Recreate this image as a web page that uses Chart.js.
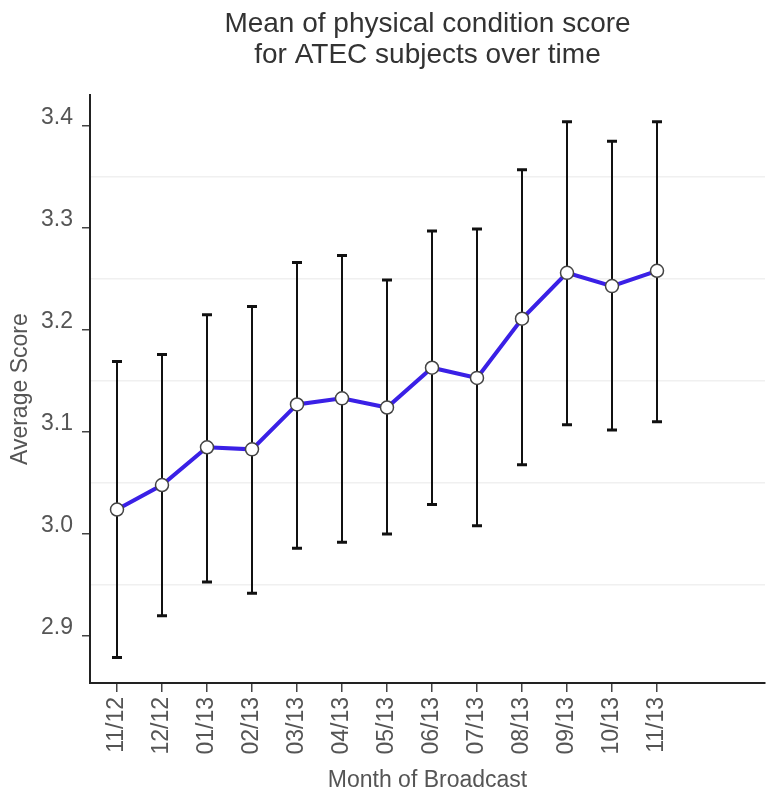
<!DOCTYPE html>
<html>
<head>
<meta charset="utf-8">
<title>Mean of physical condition score for ATEC subjects over time</title>
<script src="https://cdn.jsdelivr.net/npm/chart.js@4.4.1/dist/chart.umd.min.js"></script>
<style>
  html, body { margin: 0; padding: 0; background: #ffffff; }
  #wrap { width: 768px; height: 795px; }
</style>
</head>
<body>
<div id="wrap"><canvas id="chart" width="768" height="795"></canvas></div>
<script>
// Survey months (MM/YY)
const months = ['11/12', '12/12', '01/13', '02/13', '03/13', '04/13', '05/13',
                '06/13', '07/13', '08/13', '09/13', '10/13', '11/13'];

// Mean physical condition score per month
const meanScore = [3.024, 3.048, 3.085, 3.083, 3.127, 3.133, 3.124,
                   3.163, 3.153, 3.211, 3.256, 3.243, 3.258];

// Upper and lower ends of the error bars
const upperBound = [3.169, 3.176, 3.215, 3.223, 3.266, 3.273, 3.249,
                    3.297, 3.299, 3.357, 3.404, 3.385, 3.404];
const lowerBound = [2.879, 2.920, 2.953, 2.942, 2.986, 2.992, 3.000,
                    3.029, 3.008, 3.068, 3.107, 3.102, 3.110];

// Labelled y ticks and the faint guide lines between them
const yTickValues = [2.9, 3.0, 3.1, 3.2, 3.3, 3.4];
const yGuideValues = [2.95, 3.05, 3.15, 3.25, 3.35];

const FONT = "'Liberation Sans', Arial, Helvetica, sans-serif";
const isGuide = v => yGuideValues.some(g => Math.abs(g - v) < 1e-6);

// Vertical error bars with caps, drawn under the line and markers
const errorBars = {
  id: 'errorBars',
  beforeDatasetsDraw(chart) {
    const { ctx, scales: { x, y } } = chart;
    ctx.save();
    ctx.strokeStyle = '#111111';
    months.forEach((m, i) => {
      const px = x.getPixelForValue(i);
      const top = y.getPixelForValue(upperBound[i]);
      const bot = y.getPixelForValue(lowerBound[i]);
      ctx.lineWidth = 2;
      ctx.beginPath();
      ctx.moveTo(px, top);
      ctx.lineTo(px, bot);
      ctx.stroke();
      ctx.lineWidth = 3;
      ctx.beginPath();
      ctx.moveTo(px - 5, top);
      ctx.lineTo(px + 5, top);
      ctx.moveTo(px - 5, bot);
      ctx.lineTo(px + 5, bot);
      ctx.stroke();
    });
    ctx.restore();
  }
};

new Chart(document.getElementById('chart'), {
  type: 'line',
  data: {
    datasets: [{
      label: 'Average Score',
      data: meanScore.map((v, i) => ({ x: i, y: v })),
      borderColor: '#3a20e6',
      borderWidth: 4,
      pointRadius: 6.5,
      pointBackgroundColor: '#ffffff',
      pointBorderColor: '#444444',
      pointBorderWidth: 1.5,
      tension: 0
    }]
  },
  options: {
    responsive: false,
    animation: false,
    layout: { autoPadding: false, padding: { left: 0, right: 3, top: 0, bottom: 0 } },
    plugins: {
      legend: { display: false },
      tooltip: { enabled: false },
      title: {
        display: true,
        fullSize: false,
        text: ['Mean of physical condition score', 'for ATEC subjects over time'],
        color: '#333333',
        font: { family: FONT, size: 28, weight: 'normal', lineHeight: 1.13 },
        padding: { top: 8, bottom: 24 }
      }
    },
    scales: {
      x: {
        type: 'linear',
        min: -0.6,
        max: 14.4,
        afterBuildTicks: scale => { scale.ticks = months.map((m, i) => ({ value: i })); },
        afterFit: scale => {
          scale.height = 112;
          // the end labels sit well inside the axis, so no edge padding is needed
          scale.paddingLeft = 0;
          scale.paddingRight = 0;
        },
        border: { display: true, color: '#222222', width: 2 },
        grid: {
          drawOnChartArea: false,
          color: '#444444',
          tickColor: '#444444',
          tickLength: 9,
          lineWidth: 1.5
        },
        ticks: {
          autoSkip: false,
          minRotation: 90,
          maxRotation: 90,
          padding: 5,
          color: '#555555',
          font: { family: FONT, size: 23 },
          callback: v => months[v] ?? ''
        },
        title: {
          display: true,
          text: 'Month of Broadcast',
          color: '#555555',
          font: { family: FONT, size: 23 },
          padding: { top: 0, bottom: 1 }
        }
      },
      y: {
        type: 'linear',
        min: 2.854,
        max: 3.43,
        afterBuildTicks: scale => {
          scale.ticks = [...yTickValues, ...yGuideValues]
            .sort((a, b) => a - b)
            .map(v => ({ value: v }));
        },
        afterFit: scale => { scale.width = 90; },
        border: { display: true, color: '#222222', width: 2 },
        grid: {
          color: ctx => (ctx.tick && isGuide(ctx.tick.value)) ? '#f0f0f0' : 'rgba(0,0,0,0)',
          tickColor: ctx => (ctx.tick && isGuide(ctx.tick.value)) ? 'rgba(0,0,0,0)' : '#444444',
          tickLength: 8,
          lineWidth: 1.5
        },
        ticks: {
          padding: 9,
          labelOffset: -8,
          color: '#555555',
          font: { family: FONT, size: 23 },
          callback: v => isGuide(v) ? '' : Number(v).toFixed(1)
        },
        title: {
          display: true,
          text: 'Average Score',
          color: '#555555',
          font: { family: FONT, size: 23 },
          padding: { top: 7, bottom: 0 }
        }
      }
    }
  },
  plugins: [errorBars]
});
</script>
</body>
</html>
